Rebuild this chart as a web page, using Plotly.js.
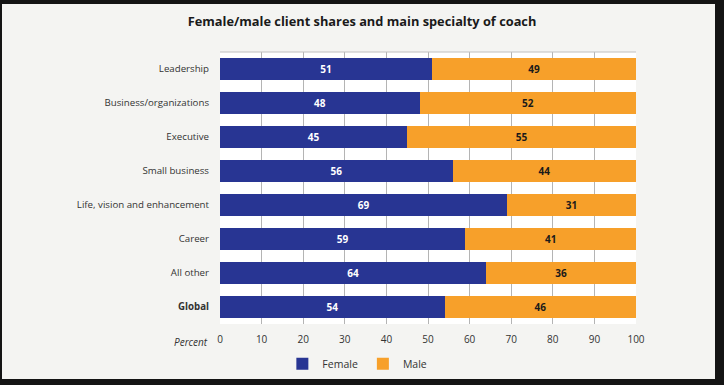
<!DOCTYPE html>
<html>
<head>
<meta charset="utf-8">
<script src="https://cdn.plot.ly/plotly-3.0.1.min.js"></script>
<style>
  html, body { margin:0; padding:0; background:#141414; width:724px; height:385px; overflow:hidden; }
  #frame { position:absolute; left:2px; top:4px; width:713px; height:375px; background:#f4f4f2; }
  #chart { position:absolute; left:0; top:0; width:724px; height:385px; }
</style>
</head>
<body>
<div id="frame"></div>
<div id="chart"></div>
<script>
const categories = ["Leadership", "Business/organizations", "Executive", "Small business",
  "Life, vision and enhancement", "Career", "All other", "<b>Global</b>"];
const female = [51, 48, 45, 56, 69, 59, 64, 54];
const male = [49, 52, 55, 44, 31, 41, 36, 46];
const tickVals = [0, 10, 20, 30, 40, 50, 60, 70, 80, 90, 100];

const font = "'Open Sans', 'Noto Sans', sans-serif";

const traces = [
  {
    type: "bar", orientation: "h", name: "Female",
    y: categories, x: female, text: female.map(String),
    marker: { color: "#283593" },
    textposition: "inside", insidetextanchor: "middle",
    textfont: { color: "#ffffff", size: 10, family: font, weight: "bold" },
    constraintext: "none", hoverinfo: "x+name"
  },
  {
    type: "bar", orientation: "h", name: "Male",
    y: categories, x: male, text: male.map(String),
    marker: { color: "#f7a02a" },
    textposition: "inside", insidetextanchor: "middle",
    textfont: { color: "#1a1a1a", size: 10, family: font, weight: "bold" },
    constraintext: "none", hoverinfo: "x+name"
  }
];

const layout = {
  width: 724, height: 385,
  margin: { l: 220, r: 88, t: 52, b: 61, pad: 0, autoexpand: false },
  paper_bgcolor: "rgba(0,0,0,0)",
  plot_bgcolor: "#ffffff",
  barmode: "stack",
  bargap: 0.35,
  font: { family: font, size: 10, color: "#333333" },
  title: {
    text: "<b>Female/male client shares and main specialty of coach</b>",
    x: 0.5, xref: "container", y: 0.943, yref: "container", yanchor: "middle",
    font: { family: font, size: 12.8, color: "#1a1a1a" }
  },
  xaxis: {
    range: [0, 100], tickvals: tickVals, ticktext: tickVals.map(String),
    showgrid: true, gridcolor: "#b4b4b4", gridwidth: 1,
    zeroline: false, showline: false, ticks: "",
    ticklabelstandoff: 8,
    tickfont: { family: font, size: 10, color: "#333333" },
    fixedrange: true
  },
  yaxis: {
    autorange: "reversed", showgrid: false, zeroline: false, ticks: "",
    ticklabelstandoff: 10,
    tickfont: { family: font, size: 9.7, color: "#333333" },
    fixedrange: true
  },
  legend: {
    orientation: "h", x: 0.39, xref: "container", xanchor: "left",
    y: 0.055, yref: "container", yanchor: "middle",
    font: { family: font, size: 10.5, color: "#333333" },
    bgcolor: "rgba(0,0,0,0)", itemwidth: 30, traceorder: "normal",
    tracegroupgap: 0
  },
  shapes: [
    { type: "line", xref: "paper", yref: "paper", x0: 0, x1: 1, y0: 1, y1: 1,
      line: { color: "#c0c0c0", width: 1 } }
  ],
  annotations: [
    { text: "<i>Percent</i>", xref: "paper", yref: "paper", x: -0.025, y: -0.065,
      xanchor: "right", yanchor: "middle", showarrow: false,
      font: { family: font, size: 10, color: "#333333" } }
  ]
};

Plotly.newPlot("chart", traces, layout, { displayModeBar: false, staticPlot: true });
</script>
</body>
</html>
